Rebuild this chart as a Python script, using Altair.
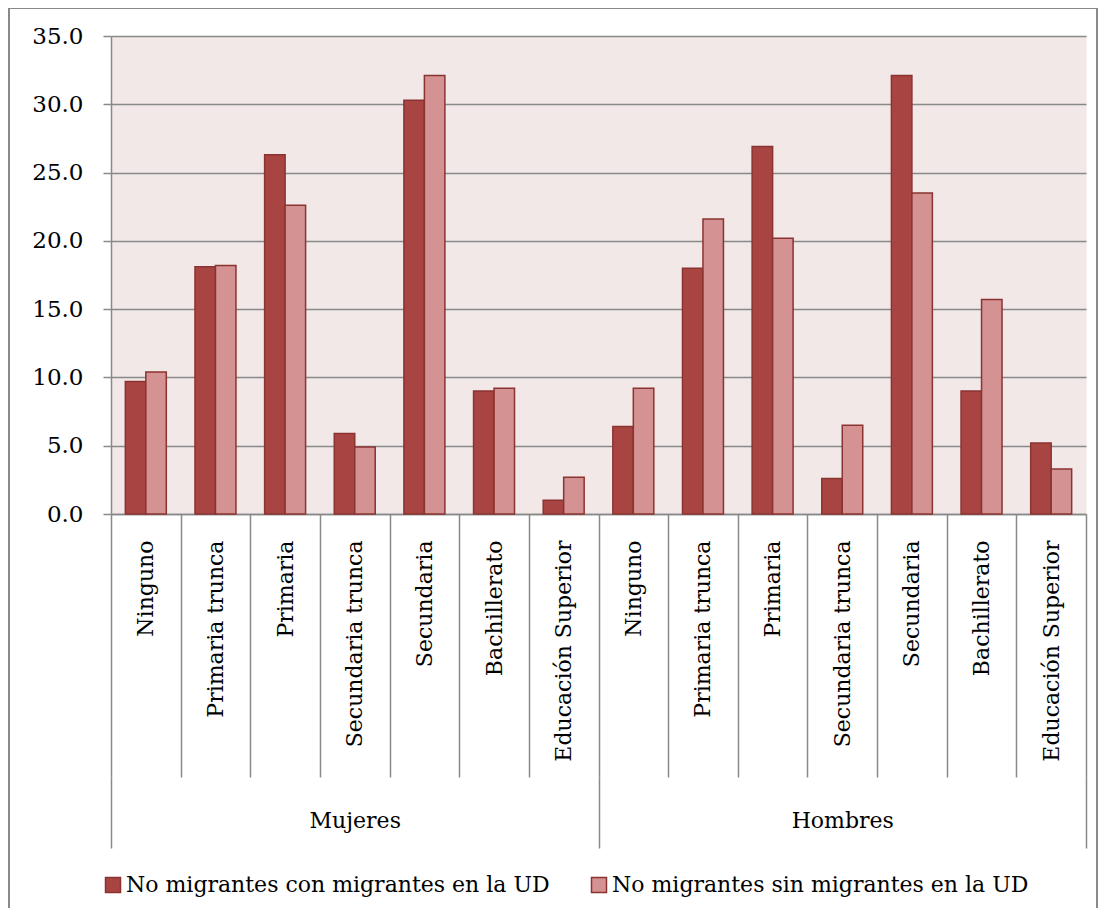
import altair as alt
import pandas as pd

groups = ["Mujeres", "Hombres"]
categories = ["Ninguno", "Primaria trunca", "Primaria", "Secundaria trunca",
              "Secundaria", "Bachillerato", "Educación Superior"]
series_names = ["No migrantes con migrantes en la UD",
                "No migrantes sin migrantes en la UD"]

mujeres_con = [9.7, 18.1, 26.3, 5.9, 30.3, 9.0, 1.0]
mujeres_sin = [10.4, 18.2, 22.6, 4.9, 32.1, 9.2, 2.7]
hombres_con = [6.4, 18.0, 26.9, 2.6, 32.1, 9.0, 5.2]
hombres_sin = [9.2, 21.6, 20.2, 6.5, 23.5, 15.7, 3.3]

y_ticks = [0, 5, 10, 15, 20, 25, 30, 35]

rows = []
for g, con, sin in [("Mujeres", mujeres_con, mujeres_sin),
                    ("Hombres", hombres_con, hombres_sin)]:
    for c, a, b in zip(categories, con, sin):
        rows.append({"group": g, "category": c, "key": f"{g}|{c}",
                     "series": series_names[0], "value": a})
        rows.append({"group": g, "category": c, "key": f"{g}|{c}",
                     "series": series_names[1], "value": b})
df = pd.DataFrame(rows)
key_order = [f"{g}|{c}" for g in groups for c in categories]

FONT = "DejaVu Serif"
GRAY = "#898989"
DARK = "#A84543"
LIGHT = "#D49292"
EDGE = "#8B3331"

bars = alt.Chart(df).mark_bar(stroke=EDGE, strokeWidth=1.5).encode(
    x=alt.X("key:N", sort=key_order, title=None,
            scale=alt.Scale(paddingInner=0, paddingOuter=0),
            axis=alt.Axis(labelExpr="split(datum.label, '|')[1]",
                          labelAngle=270, labelAlign="right",
                          labelBaseline="middle", labelPadding=-237,
                          tickBand="extent", tickSize=263, tickColor=GRAY,
                          tickWidth=1.5, domainColor=GRAY, domainWidth=1.5,
                          labelFont=FONT, labelFontSize=22, labelColor="black",
                          labelOverlap=False, labelLimit=400)),
    xOffset=alt.XOffset("series:N", sort=series_names,
                        scale=alt.Scale(paddingInner=0, paddingOuter=0.7)),
    y=alt.Y("value:Q", title=None,
            scale=alt.Scale(domain=[0, 35], nice=False),
            axis=alt.Axis(values=y_ticks, format=".1f", grid=True,
                          gridColor=GRAY, gridWidth=1.5, domainColor=GRAY,
                          domainWidth=1.5, tickColor=GRAY, tickWidth=1.5,
                          tickSize=8, labelPadding=20, labelFont=FONT,
                          labelFontSize=23, labelColor="black")),
    color=alt.Color("series:N", sort=series_names,
                    scale=alt.Scale(domain=series_names, range=[DARK, LIGHT]),
                    legend=alt.Legend(title=None, orient="none", legendX=-9,
                                      legendY=838, direction="horizontal",
                                      columns=2, symbolType="square",
                                      symbolSize=225, symbolStrokeColor=EDGE,
                                      symbolStrokeWidth=1.5, labelFont=FONT,
                                      labelFontSize=22, labelColor="black",
                                      labelLimit=600, columnPadding=38,
                                      labelOffset=2, padding=0)),
)

group_axis = alt.Chart(df).mark_point(opacity=0).encode(
    x=alt.X("group:N", sort=groups, title=None,
            scale=alt.Scale(type="band", paddingInner=0, paddingOuter=0),
            axis=alt.Axis(orient="bottom", offset=263, domain=False,
                          tickBand="extent", tickSize=71, tickColor=GRAY,
                          tickWidth=1.5, labelAngle=0, labelAlign="center",
                          labelBaseline="middle", labelPadding=-28,
                          labelFont=FONT, labelFontSize=22, labelColor="black")),
)

frame = alt.Chart(alt.Data(values=[{}])).mark_rect(
    fillOpacity=0, stroke=GRAY, strokeWidth=2
).encode(
    x=alt.value(-102), x2=alt.value(986), y=alt.value(-28), y2=alt.value(1000)
)

chart = alt.layer(frame, bars, group_axis).resolve_scale(
    x="independent"
).properties(
    width=975, height=478,
    padding={"left": 103, "top": 28, "right": 12, "bottom": 394},
    autosize=alt.AutoSizeParams(type="none"),
).configure_view(
    fill="#F2E8E8", stroke="transparent"
)

chart.save("out.html", embed_options={"renderer": "svg", "actions": False})
